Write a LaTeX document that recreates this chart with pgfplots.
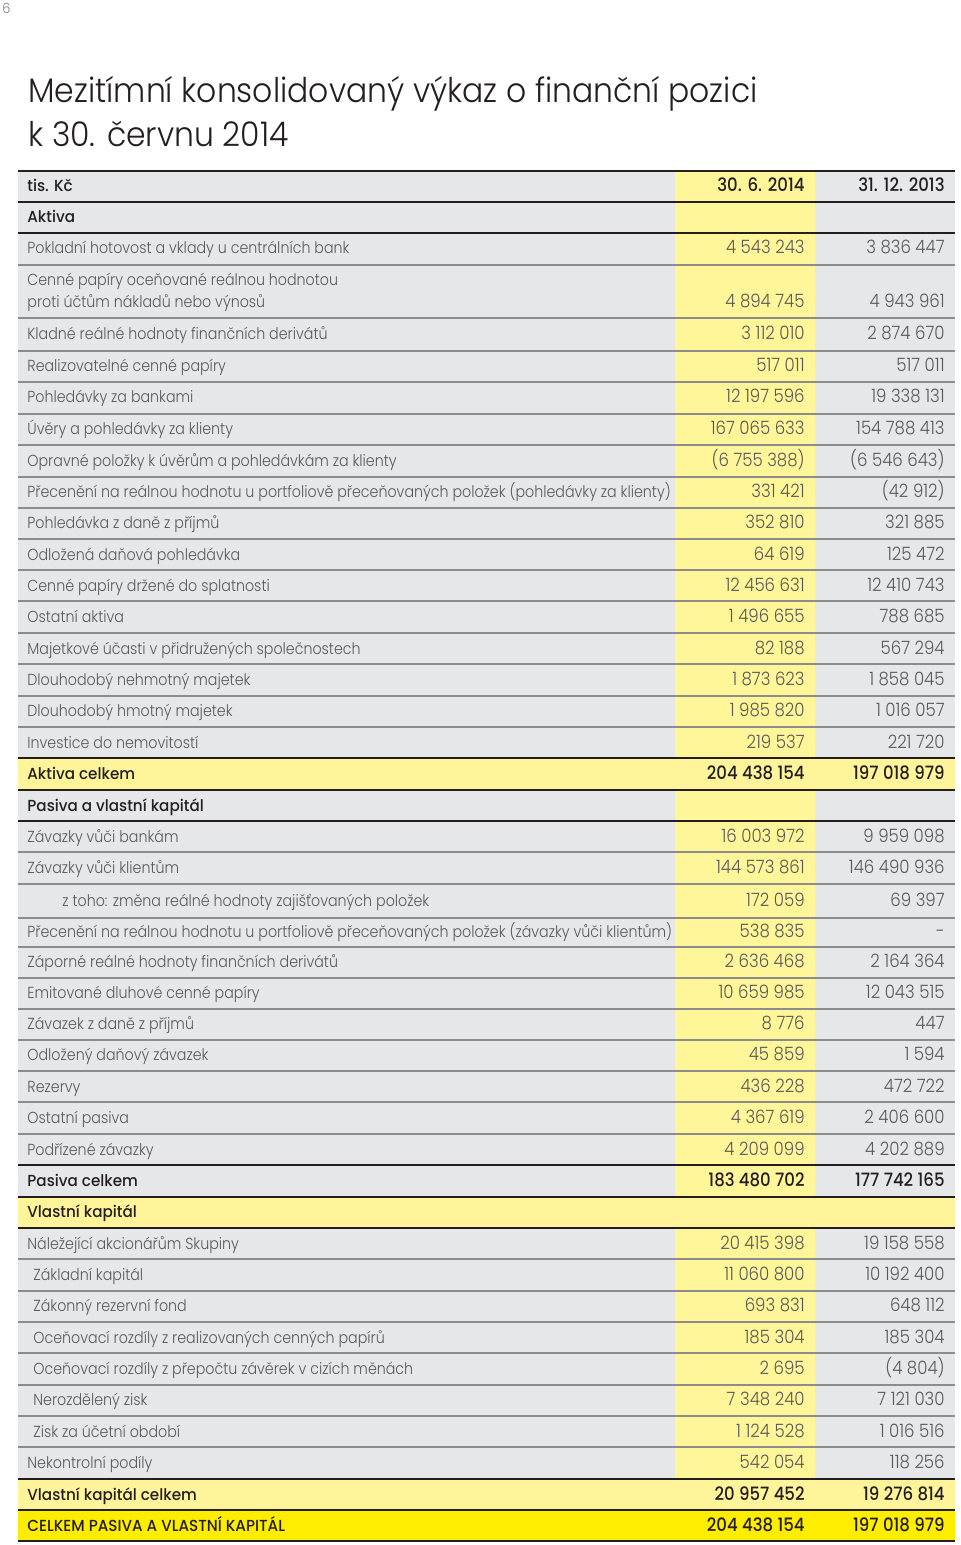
\documentclass[border=0pt]{standalone}
\usepackage{fontspec}
\setmainfont{Poppins}[UprightFont=* Light, BoldFont=* Medium]
\newfontfamily\lblfont{Poppins}[UprightFont=* Light, BoldFont=* Medium, FakeStretch=0.89]
\newfontfamily\strongfont{Poppins}[UprightFont=* Medium, FakeStretch=0.95]
\newfontfamily\numfont{Poppins}[UprightFont=* Light, BoldFont=* Medium, FakeStretch=0.9]
\newfontfamily\titlefont{Poppins}[UprightFont=* Light, FakeStretch=0.925]
\usepackage{pgfplots}
\usepackage{pgfplotstable}
\pgfplotsset{compat=1.18}

\definecolor{rowgray}{HTML}{E6E7E8}
\definecolor{colyel}{HTML}{FFF599}
\definecolor{totyel}{HTML}{FFF49A}
\definecolor{hotyel}{HTML}{FFED00}
\definecolor{txtgray}{HTML}{58595B}
\definecolor{txtdark}{HTML}{231F20}
\definecolor{sepgray}{HTML}{8C8C8C}

% y = baseline in px (top = 0), x = label indent
\pgfplotstableread[col sep=semicolon]{
y;x;lab;a;b
254;27;Pokladní hotovost a vklady u centrálních bank;4 543 243;3 836 447
286;27;Cenné papíry oceňované reálnou hodnotou;;
308;27;proti účtům nákladů nebo výnosů;4 894 745;4 943 961
340;27;Kladné reálné hodnoty finančních derivátů;3 112 010;2 874 670
372;27;Realizovatelné cenné papíry;517 011;517 011
403;27;Pohledávky za bankami;12 197 596;19 338 131
435;27;Úvěry a pohledávky za klienty;167 065 633;154 788 413
466;27;Opravné položky k úvěrům a pohledávkám za klienty;(6 755 388);(6 546 643)
497;27;Přecenění na reálnou hodnotu u portfoliově přeceňovaných položek (pohledávky za klienty);331 421;(42 912)
528;27;Pohledávka z daně z příjmů;352 810;321 885
560;27;Odložená daňová pohledávka;64 619;125 472
591;27;Cenné papíry držené do splatnosti;12 456 631;12 410 743
622;27;Ostatní aktiva;1 496 655;788 685
654;27;Majetkové účasti v přidružených společnostech;82 188;567 294
685;27;Dlouhodobý nehmotný majetek;1 873 623;1 858 045
716;27;Dlouhodobý hmotný majetek;1 985 820;1 016 057
748;27;Investice do nemovitostí;219 537;221 720
842;27;Závazky vůči bankám;16 003 972;9 959 098
873;27;Závazky vůči klientům;144 573 861;146 490 936
906;62;z toho: změna reálné hodnoty zajišťovaných položek;172 059;69 397
937;27;Přecenění na reálnou hodnotu u portfoliově přeceňovaných položek (závazky vůči klientům);538 835;-
967;27;Záporné reálné hodnoty finančních derivátů;2 636 468;2 164 364
998;27;Emitované dluhové cenné papíry;10 659 985;12 043 515
1029;27;Závazek z daně z příjmů;8 776;447
1060;27;Odložený daňový závazek;45 859;1 594
1092;27;Rezervy;436 228;472 722
1123;27;Ostatní pasiva;4 367 619;2 406 600
1155;27;Podřízené závazky;4 209 099;4 202 889
1249;27;Náležející akcionářům Skupiny;20 415 398;19 158 558
1280;33;Základní kapitál;11 060 800;10 192 400
1311;33;Zákonný rezervní fond;693 831;648 112
1343;33;Oceňovací rozdíly z realizovaných cenných papírů;185 304;185 304
1374;33;Oceňovací rozdíly z přepočtu závěrek v cizích měnách;2 695;(4 804)
1405;33;Nerozdělený zisk;7 348 240;7 121 030
1437;33;Zisk za účetní období;1 124 528;1 016 516
1468;27;Nekontrolní podíly;542 054;118 256
}\normalrows

\pgfplotstableread[col sep=semicolon]{
y;x;lab;a;b
192;27;tis. Kč;30. 6. 2014;31. 12. 2013
223;27;Aktiva;;
779;27;Aktiva celkem;204 438 154;197 018 979
811;27;Pasiva a vlastní kapitál;;
1186;27;Pasiva celkem;183 480 702;177 742 165
1217;27;Vlastní kapitál;;
1500;27;Vlastní kapitál celkem;20 957 452;19 276 814
1531;27;CELKEM PASIVA A VLASTNÍ KAPITÁL;204 438 154;197 018 979
}\strongrows

\newcommand{\lblsize}{\fontsize{8pt}{9pt}\selectfont}
\newcommand{\numsize}{\fontsize{9.2pt}{10pt}\selectfont}

\begin{document}
\begin{tikzpicture}
\begin{axis}[
    width=480pt, height=772.5pt, scale only axis,
    xmin=0, xmax=960, ymin=0, ymax=1545,
    y dir=reverse,
    hide axis,
    clip=false,
    point meta=explicit symbolic,
    nodes near coords,
]
% backgrounds
\fill[white] (axis cs:0,0) rectangle (axis cs:960,1545);
\fill[rowgray] (axis cs:18,171) rectangle (axis cs:955,1541);
\fill[colyel] (axis cs:675,171) rectangle (axis cs:815,1541);
\fill[totyel] (axis cs:18,758) rectangle (axis cs:955,790);
\fill[totyel] (axis cs:18,1197) rectangle (axis cs:955,1228);
\fill[totyel] (axis cs:18,1479) rectangle (axis cs:955,1510);
\fill[hotyel] (axis cs:18,1510) rectangle (axis cs:955,1541);
% thin separators
\pgfplotsinvokeforeach{265,318,351,382,414,445,477,508,539,570,601,633,664,696,727,852,884,918,947,978,1009,1040,1071,1102,1134,1259,1291,1322,1353,1385,1416,1447}{
  \draw[sepgray, line width=0.8pt] (axis cs:18,#1) -- (axis cs:955,#1);
}
% thick separators
\pgfplotsinvokeforeach{171,202,233,758,790,821,1165,1197,1228,1479,1510,1541}{
  \draw[txtdark, line width=1.2pt] (axis cs:18,#1) -- (axis cs:955,#1);
}

% title and page number
\node[anchor=base west, inner sep=0pt, text=txtdark, font=\titlefont\fontsize{17pt}{20pt}\selectfont]
  at (axis cs:28,103) {Mezitímní konsolidovaný výkaz o finanční pozici};
\node[anchor=base west, inner sep=0pt, text=txtdark, font=\titlefont\fontsize{17pt}{20pt}\selectfont]
  at (axis cs:28,147) {k 30. červnu 2014};
\node[anchor=base west, inner sep=0pt, text=gray, font=\titlefont\fontsize{7pt}{8pt}\selectfont]
  at (axis cs:2,14) {6};

% normal rows
\addplot[draw=none, mark=none, nodes near coords style={anchor=base west, inner sep=0pt, text=txtgray, font=\lblfont\lblsize}]
  table[x=x, y=y, meta=lab]{\normalrows};
\addplot[draw=none, mark=none, nodes near coords style={anchor=base east, inner sep=0pt, text=txtgray, font=\numfont\numsize}]
  table[x expr=805, y=y, meta=a]{\normalrows};
\addplot[draw=none, mark=none, nodes near coords style={anchor=base east, inner sep=0pt, text=txtgray, font=\numfont\numsize}]
  table[x expr=945, y=y, meta=b]{\normalrows};
% bold rows
\addplot[draw=none, mark=none, nodes near coords style={anchor=base west, inner sep=0pt, text=txtdark, font=\strongfont\lblsize}]
  table[x=x, y=y, meta=lab]{\strongrows};
\addplot[draw=none, mark=none, nodes near coords style={anchor=base east, inner sep=0pt, text=txtdark, font=\numfont\numsize\bfseries}]
  table[x expr=805, y=y, meta=a]{\strongrows};
\addplot[draw=none, mark=none, nodes near coords style={anchor=base east, inner sep=0pt, text=txtdark, font=\numfont\numsize\bfseries}]
  table[x expr=945, y=y, meta=b]{\strongrows};
\end{axis}
\end{tikzpicture}
\end{document}
